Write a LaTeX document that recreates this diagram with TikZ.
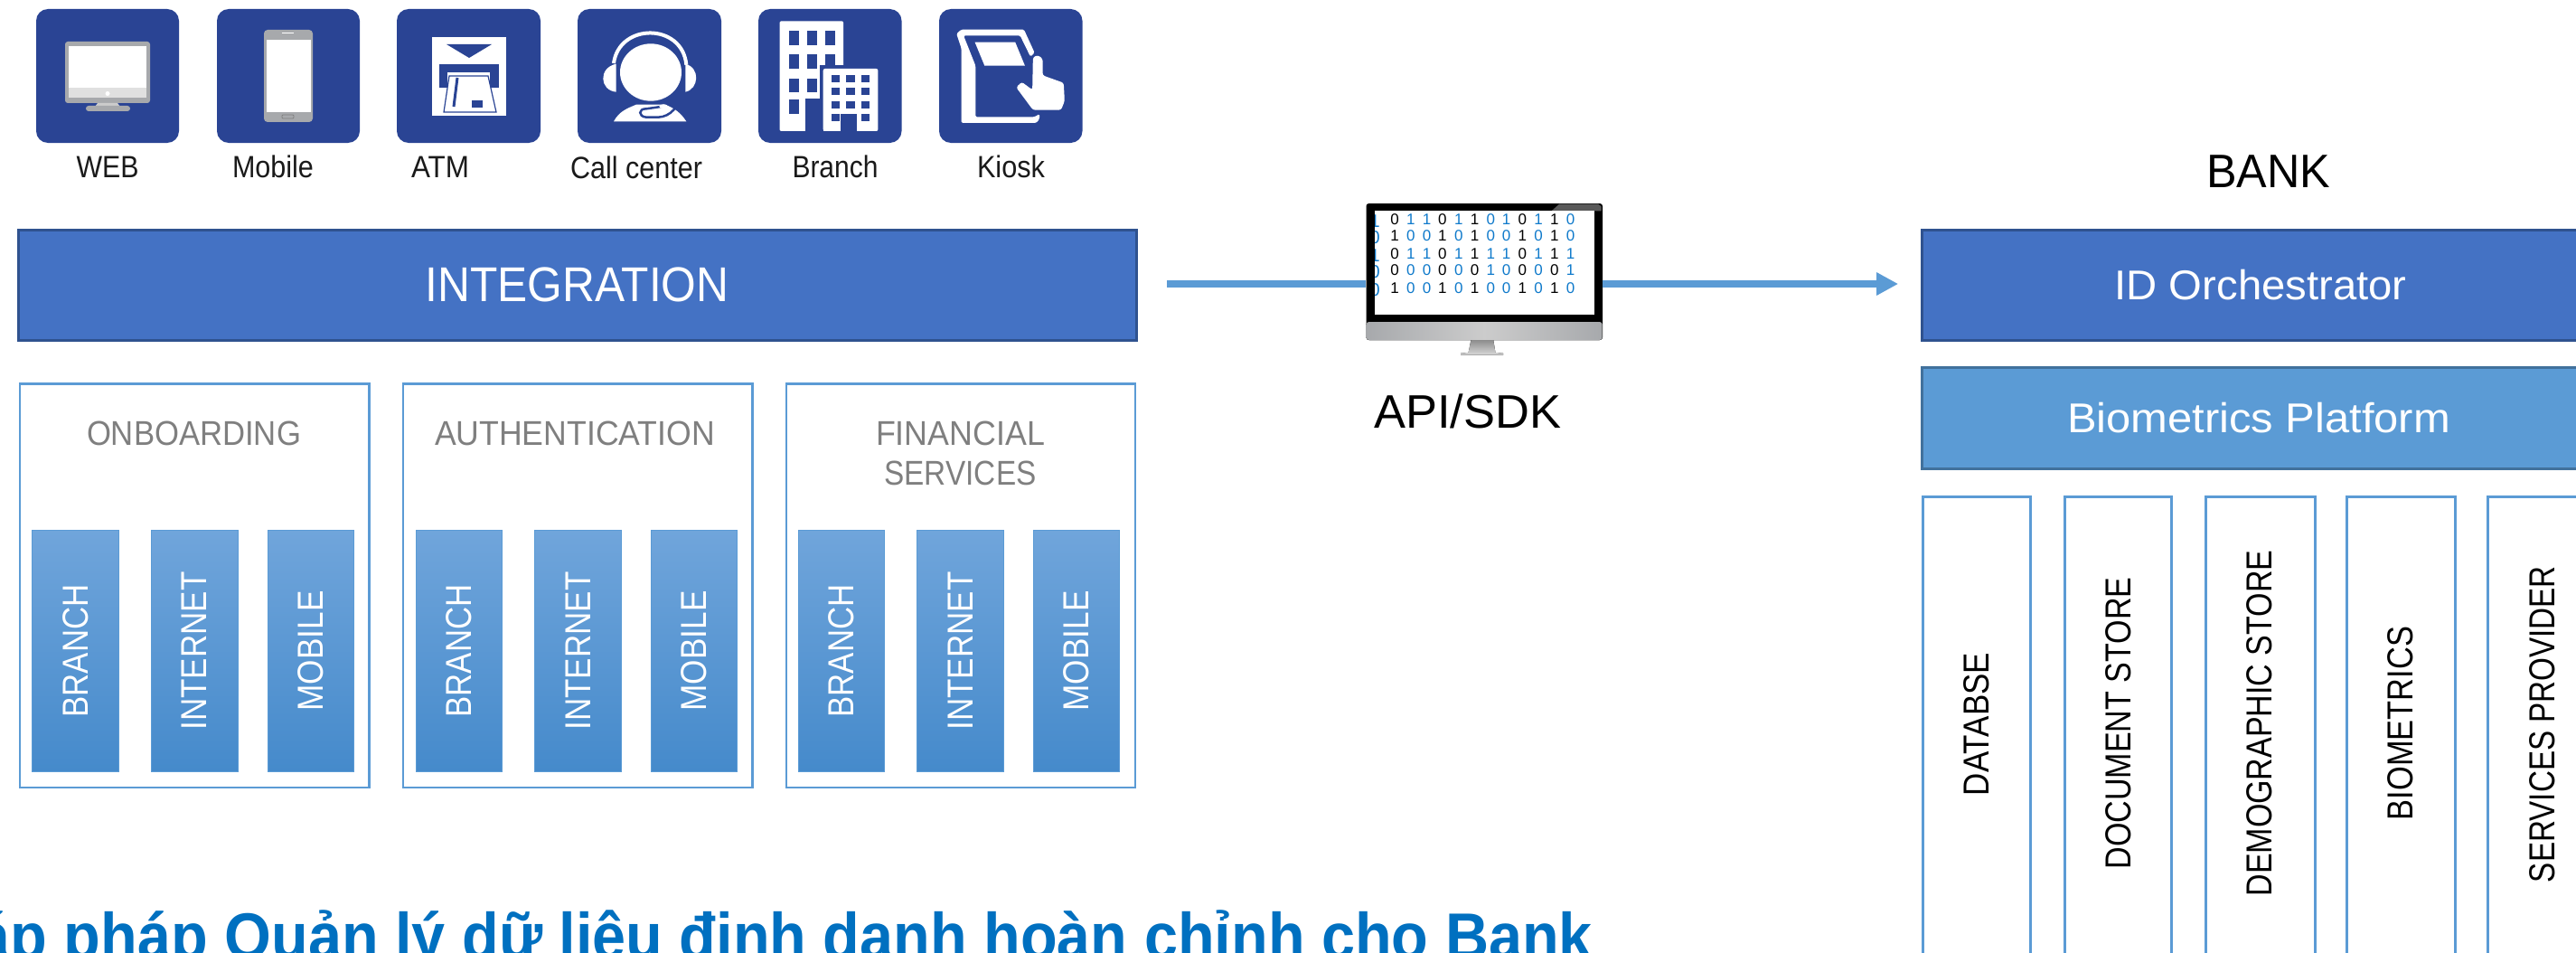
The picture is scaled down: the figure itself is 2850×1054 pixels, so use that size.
\documentclass[tikz,border=0pt]{standalone}
\usepackage{fontspec}
\usepackage{graphicx}
\setmainfont{Liberation Sans}
\usetikzlibrary{arrows.meta,shadings}
\definecolor{iconblue}{HTML}{2A4494}
\definecolor{orchblue}{HTML}{4472C4}
\definecolor{orchedge}{HTML}{2F528F}
\definecolor{skyblue}{HTML}{5B9BD5}
\definecolor{skyedge}{HTML}{41719C}
\definecolor{bartop}{HTML}{70A5DB}
\definecolor{barbot}{HTML}{458ACB}
\definecolor{greytext}{HTML}{7F7F7F}
\definecolor{titleblue}{HTML}{0070C0}
\definecolor{digblue}{HTML}{0F7ACB}
\definecolor{devgrey}{HTML}{A7A9AC}
\definecolor{inktext}{HTML}{1A1A1A}
\newlength\wtw
% size, target width, text
\newcommand\wtext[3]{{\fontsize{#1}{#1}\selectfont\settowidth\wtw{#3}\pgfmathsetmacro\wtsx{#2/\wtw}\scalebox{\wtsx}[1]{#3}}}
% name, x1,y1,x2,y2, style, text
\newcommand\rectnode[7]{%
  \pgfmathsetmacro\rcx{(#2+#4)/2}\pgfmathsetmacro\rcy{(#3+#5)/2}%
  \pgfmathsetmacro\rww{#4-#2}\pgfmathsetmacro\rhh{#5-#3}%
  \node[#6,minimum width=\rww pt,minimum height=\rhh pt,inner sep=0pt] (#1) at (\rcx,\rcy) {#7};}
\tikzset{
  tilebox/.style={fill=iconblue,rounded corners=13pt},
  iconlabel/.style={inner sep=0pt,text=inktext},
  mainbar/.style={fill=orchblue,draw=orchedge,line width=3pt,text=white},
  skybar/.style={fill=skyblue,draw=skyedge,line width=3pt,text=white},
  groupbox/.style={draw=skyblue,line width=2.5pt},
  channel/.style={top color=bartop,bottom color=barbot,draw=skyblue,line width=1pt,text=white},
  storebox/.style={draw=skyblue,line width=3pt},
  grouptitle/.style={inner sep=0pt,text=greytext},
  flow/.style={draw=skyblue,line width=8pt},
  headtext/.style={inner sep=0pt,text=black},
  digit/.style={inner sep=0pt}
}
\begin{document}
\begin{tikzpicture}[x=1pt,y=-1pt]
\useasboundingbox (0,0) rectangle (2850,1054);
\clip (0,0) rectangle (2850,1054);
\fill[white] (0,0) rectangle (2850,1054);

% ---- channel tiles
\rectnode{tweb}{40}{10}{198}{158}{tilebox}{}
\rectnode{tmob}{240}{10}{398}{158}{tilebox}{}
\rectnode{tatm}{439}{10}{598}{158}{tilebox}{}
\rectnode{tcall}{639}{10}{798}{158}{tilebox}{}
\rectnode{tbranch}{839}{10}{997.5}{158}{tilebox}{}
\rectnode{tkiosk}{1039}{10}{1197.5}{158}{tilebox}{}

\node[iconlabel] (lweb) at (119,184.5) {\wtext{34}{69}{WEB}};
\node[iconlabel] (lmob) at (302,184.5) {\wtext{34}{90}{Mobile}};
\node[iconlabel] (latm) at (487,184.5) {\wtext{34}{64}{ATM}};
\node[iconlabel] (lcall) at (704,185) {\wtext{34}{146}{Call center}};
\node[iconlabel] (lbranch) at (924,184.5) {\wtext{34}{95}{Branch}};
\node[iconlabel] (lkiosk) at (1118.5,184.5) {\wtext{34}{75}{Kiosk}};

% WEB icon
\fill[devgrey,rounded corners=3pt] (72,46) rectangle (166,114);
\fill[white] (76,51) rectangle (162,97);
\fill[black!12] (76,97) rectangle (162,108);
\fill[white] (119,103.5) ellipse (2.5 and 2.5);
\fill[black!20] (108,114) -- (130,114) -- (133,118) -- (105,118) -- cycle;
\fill[devgrey,rounded corners=3pt] (95,117) rectangle (144,123);

% Mobile icon
\fill[devgrey,rounded corners=4pt] (292,33) rectangle (346,135);
\fill[white] (295,44) rectangle (344,124);
\draw[white,line width=1pt] (312,37) -- (325,37);
\draw[black!50,line width=.8pt,rounded corners=1pt] (312,127) rectangle (325,131);

% ATM icon
\fill[white] (478,41) rectangle (560,128);
\fill[iconblue] (494,49) -- (544,49) -- (519,64) -- cycle;
\fill[iconblue] (486,71) rectangle (552,97);
\fill[white] (495,80) rectangle (542,97);
\draw[iconblue,line width=1.2pt,fill=white] (497,84) -- (540,84) -- (549,124) -- (491,124) -- cycle;
\draw[iconblue,line width=3pt] (506,86) -- (502,118);
\fill[iconblue] (522,111) rectangle (534,119);

% Call center icon
\begin{scope}[shift={(630,5)},x=.33333pt,y=-.33333pt]
  \fill[white] (270,225) ellipse [x radius=102,y radius=95];
  \draw[white,line width=4pt] (147,195) .. controls (165,60) and (375,60) .. (388,200);
  \fill[white] (155,197) .. controls (95,210) and (100,285) .. (155,290) -- cycle;
  \fill[white] (385,197) .. controls (435,210) and (430,280) .. (385,290) -- cycle;
  \fill[white] (147,388) .. controls (165,355) and (190,345) .. (222,332) -- (318,332) .. controls (350,345) and (370,360) .. (388,388) -- cycle;
  \draw[iconblue,line width=2.5pt] (374,285) .. controls (365,340) and (335,372) .. (295,374) -- (255,374) .. controls (228,372) and (228,345) .. (255,346) -- (310,338);
  \fill[white] (312,338) ellipse [x radius=14,y radius=7];
\end{scope}

% Branch icon
\begin{scope}[shift={(700,0)},x=.35714pt,y=-.33333pt]
  \fill[white,rounded corners=2pt] (455,70) rectangle (653,435);
  \foreach \wx/\wy in {483/103,540/103,597/103,483/180,540/180,597/180,483/260,540/260,483/330}
    \fill[iconblue] (\wx,\wy) rectangle ++(31,47);
  \fill[iconblue] (580,215) rectangle (670,328);
  \fill[iconblue] (535,328) rectangle (590,445);
  \fill[white,rounded corners=2pt] (590,228) rectangle (760,435);
  \foreach \wx/\wy in {615/250,662/250,708/250,615/292,662/292,708/292,615/337,662/337,708/337,615/378,708/378}
    \fill[iconblue] (\wx,\wy) rectangle ++(26,23);
  \fill[iconblue] (645,378) rectangle (695,436);
\end{scope}

% Kiosk icon
\begin{scope}[shift={(700,0)},x=.35714pt,y=-.33333pt]
  \fill[white,rounded corners=1.5pt] (1003,112) -- (1018,98) -- (1212,98) -- (1245,175) -- (1232,188) -- (1200,118) -- (1025,118) -- (1062,218) -- (1062,388) -- (1245,388) -- (1260,378) -- (1260,395) -- (1250,408) -- (1018,408) -- (1018,160) -- cycle;
  \fill[white] (1060,140) -- (1185,140) -- (1215,218) -- (1090,218) -- cycle;
  \fill[white,rounded corners=2.5pt] (1240,190) -- (1255,183) -- (1270,195) -- (1270,250) -- (1335,275) -- (1338,335) -- (1327,365) -- (1240,365) -- (1188,290) -- (1205,272) -- (1238,298) -- cycle;
\end{scope}

% ---- integration block
\rectnode{integ}{20}{254}{1257}{376}{mainbar}{\wtext{54}{336}{INTEGRATION}}

\rectnode{gon}{22}{424.5}{408.5}{871}{groupbox}{}
\rectnode{gau}{446}{424.5}{832.5}{871}{groupbox}{}
\rectnode{gfi}{870}{424.5}{1256}{871}{groupbox}{}
\node[grouptitle] (ton) at (214.5,479) {\wtext{38}{237}{ONBOARDING}};
\node[grouptitle] (tau) at (636,479) {\wtext{38}{310}{AUTHENTICATION}};
\node[grouptitle] (tfi) at (1062.5,479) {\wtext{38}{187}{FINANCIAL}};
\node[grouptitle] (tfs) at (1062.5,523.5) {\wtext{38}{168}{SERVICES}};

\foreach \g/\off in {a/0,b/424.4,c/847.6}{
  \pgfmathsetmacro\xa{35.6+\off}\pgfmathsetmacro\xb{131+\off}
  \pgfmathsetmacro\xc{167+\off}\pgfmathsetmacro\xd{263+\off}
  \pgfmathsetmacro\xe{296+\off}\pgfmathsetmacro\xf{391+\off}
  \rectnode{br\g}{\xa}{586.5}{\xb}{853.5}{channel}{\rotatebox{90}{\wtext{40}{147}{BRANCH}}}
  \rectnode{in\g}{\xc}{586.5}{\xd}{853.5}{channel}{\rotatebox{90}{\wtext{40}{175}{INTERNET}}}
  \rectnode{mo\g}{\xe}{586.5}{\xf}{853.5}{channel}{\rotatebox{90}{\wtext{40}{133}{MOBILE}}}
}

% ---- API monitor
\rectnode{monitor}{1511.5}{225}{1773}{376}{fill=black,rounded corners=3pt}{}
\begin{scope}[shift={(1240,180)},x=.57405pt,y=-.33333pt]
  \fill[black!65] (830,160) -- (845,137) -- (920,137) -- (926,145) -- (926,160) -- cycle;
  \fill[left color=devgrey,right color=devgrey,middle color=black!20,rounded corners=3pt] (473,528) rectangle (928,588);
  \fill[top color=black!45,bottom color=black!15] (675,588) -- (718,588) -- (722,630) -- (737,632) -- (737,638) -- (655,638) -- (655,632) -- (670,630) -- cycle;
  \fill[white] (490,160) rectangle (912,503);
  \begin{scope}
    \clip (490,160) rectangle (912,503);
    \foreach \xx/\dcol/\da/\db/\dc/\dd/\de in {
      528/black/0/1/0/0/1, 559/digblue/1/0/1/0/0, 590/digblue/1/0/1/0/0,
      620/black/0/1/0/0/1, 651/digblue/1/0/1/0/0, 682/black/1/1/1/0/1,
      713/digblue/0/0/1/1/0, 743/digblue/1/0/1/0/0, 774/black/0/1/0/0/1,
      805/digblue/1/0/1/0/0, 836/black/1/1/1/0/1, 867/digblue/0/0/1/1/0}{
      \node[digit,text=\dcol] (da\xx) at (\xx,187) {\fontsize{17}{17}\selectfont\da};
      \node[digit,text=\dcol] (db\xx) at (\xx,241) {\fontsize{17}{17}\selectfont\db};
      \node[digit,text=\dcol] (dc\xx) at (\xx,301) {\fontsize{17}{17}\selectfont\dc};
      \node[digit,text=\dcol] (dd\xx) at (\xx,355) {\fontsize{17}{17}\selectfont\dd};
      \node[digit,text=\dcol] (de\xx) at (\xx,415) {\fontsize{17}{17}\selectfont\de};
    }
    \foreach \yy/\dv in {195/1,247/0,307/1,361/0,421/0}
      \node[digit,text=digblue] (dz\yy) at (490,\yy) {\fontsize{20}{20}\selectfont\dv};
  \end{scope}
\end{scope}
\node[headtext] (apilabel) at (1623.5,455) {\wtext{52}{207}{API/SDK}};

% ---- bank side
\node[headtext] (banklabel) at (2509.5,190) {\wtext{52}{137}{BANK}};
\rectnode{orch}{2126}{254}{2876}{376}{mainbar}{\wtext{46}{323}{ID Orchestrator}}
\rectnode{biop}{2126}{406}{2872}{518}{skybar}{\wtext{46}{424}{Biometrics Platform}}

\rectnode{sdb}{2127.5}{549}{2246}{1075}{storebox}{}
\rectnode{sdoc}{2284}{549}{2402}{1075}{storebox}{}
\rectnode{sdem}{2440}{549}{2561}{1075}{storebox}{}
\rectnode{sbio}{2596}{549}{2716}{1075}{storebox}{}
\rectnode{ssrv}{2752}{549}{2874}{1075}{storebox}{}
\node[inner sep=0pt] (xdb) at (2187,801) {\rotatebox{90}{\wtext{40}{158}{DATABSE}}};
\node[inner sep=0pt] (xdoc) at (2344,800) {\rotatebox{90}{\wtext{40}{323}{DOCUMENT STORE}}};
\node[inner sep=0pt] (xdem) at (2500,800) {\rotatebox{90}{\wtext{40}{383}{DEMOGRAPHIC STORE}}};
\node[inner sep=0pt] (xbio) at (2656,800) {\rotatebox{90}{\wtext{40}{214}{BIOMETRICS}}};
\node[inner sep=0pt] (xsrv) at (2813,801) {\rotatebox{90}{\wtext{40}{350}{SERVICES PROVIDER}}};

% ---- connectors
\coordinate (linestart) at (1291,314);
\draw[flow] (linestart) -- (monitor.west |- linestart);
\draw[flow,-{Triangle[length=24pt 0 0,width=24pt 0 0]},shorten >=24.4pt] (monitor.east |- linestart) -- (orch.west |- linestart);

% ---- title
\node[anchor=base east,inner sep=0pt,text=titleblue] (pagetitle) at (1762,1060) {\wtext{72}{1787}{\bfseries áp pháp Quản lý dữ liệu định danh hoàn chỉnh cho Bank}};
\end{tikzpicture}
\end{document}
